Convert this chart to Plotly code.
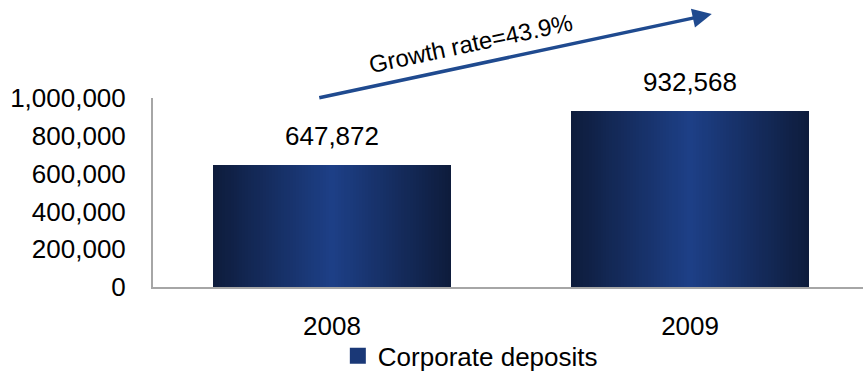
import plotly.graph_objects as go

# Corporate deposits by year
years = ["2008", "2009"]
deposits = [647872, 932568]
series_name = "Corporate deposits"
growth_label = "Growth rate=43.9%"

y_ticks = [0, 200000, 400000, 600000, 800000, 1000000]

FONT = "Liberation Sans, Arial, sans-serif"
EDGE = (14, 28, 60)     # dark bar edge
CENTER = (29, 63, 134)  # bright bar centre
BAR_WIDTH = 0.667
LAYERS = 40

def mix(t):
    r = [round(EDGE[i] + (CENTER[i] - EDGE[i]) * t) for i in range(3)]
    return f"rgb({r[0]},{r[1]},{r[2]})"

x_pos = list(range(len(years)))

fig = go.Figure()

# Horizontal gradient built from overlaid bars of shrinking width
for k in range(LAYERS):
    frac = 1 - k / LAYERS
    fig.add_trace(go.Bar(
        x=x_pos, y=deposits,
        width=BAR_WIDTH * frac,
        marker=dict(color=mix(k / (LAYERS - 1)), line=dict(width=0)),
        showlegend=False, hoverinfo="skip",
    ))

# Legend swatch
fig.add_trace(go.Scatter(
    x=[None], y=[None], mode="markers", name=series_name,
    marker=dict(symbol="square", size=18, color=mix(0.8)),
))

# Value labels above bars
for xi, v in zip(x_pos, deposits):
    fig.add_annotation(
        x=xi, y=v, text=f"{v:,}", showarrow=False,
        yanchor="bottom", yshift=12,
        font=dict(family=FONT, size=26, color="black"),
    )

# Growth arrow and caption
fig.add_annotation(
    xref="paper", yref="paper", x=0.787, y=1.444,
    ax=-394, ay=84, axref="pixel", ayref="pixel",
    text="", showarrow=True, arrowhead=2, arrowsize=1.1,
    arrowwidth=3.5, arrowcolor="#1F4A8F",
)
fig.add_annotation(
    xref="paper", yref="paper", x=0.4465, y=1.286,
    xanchor="center", yanchor="middle",
    text=growth_label, showarrow=False, textangle=-12,
    font=dict(family=FONT, size=24, color="black"),
)

fig.update_layout(
    width=863, height=373,
    margin=dict(l=153, r=0, t=98, b=86, autoexpand=False),
    paper_bgcolor="white", plot_bgcolor="white",
    barmode="overlay", bargap=0,
    font=dict(family=FONT, size=26, color="black"),
    showlegend=True,
    legend=dict(orientation="h", x=0.545, xanchor="center",
                xref="container", yref="container",
                y=0.046, yanchor="middle",
                font=dict(family=FONT, size=26, color="black"),
                itemwidth=30, bgcolor="rgba(0,0,0,0)"),
    xaxis=dict(
        range=[-0.5, 1.483], tickvals=x_pos, ticktext=years,
        showgrid=False, zeroline=False, showline=True,
        linecolor="#A6A6A6", linewidth=2, ticks="",
        ticklabelstandoff=15, fixedrange=True, automargin=False,
    ),
    yaxis=dict(
        range=[0, 1000000], tickvals=y_ticks,
        ticktext=[f"{t:,}" for t in y_ticks],
        showgrid=False, zeroline=False, showline=True,
        linecolor="#A6A6A6", linewidth=2, ticks="",
        ticklabelstandoff=20, fixedrange=True, automargin=False,
    ),
)

fig.write_html("out.html")
